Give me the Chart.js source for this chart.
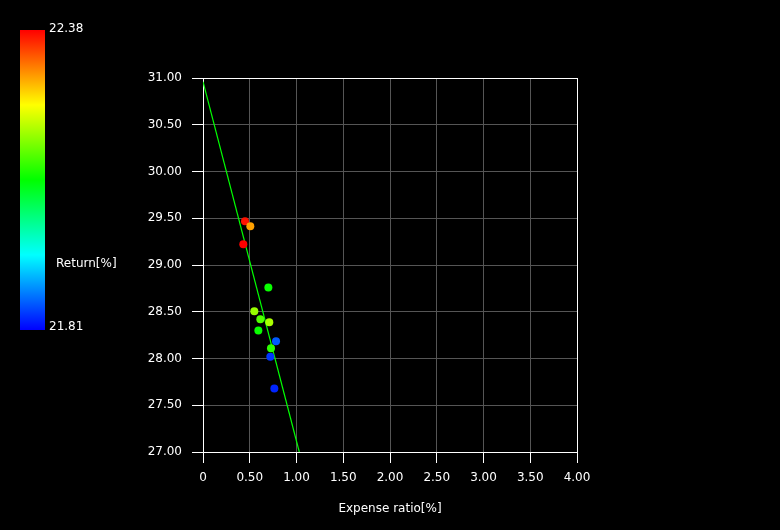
<!DOCTYPE html>
<html>
<head>
<meta charset="utf-8">
<script src="https://cdn.jsdelivr.net/npm/chart.js@4.4.0/dist/chart.umd.min.js"></script>
<style>
html,body{margin:0;padding:0;background:#000;}
#c{display:block;}
</style>
</head>
<body>
<canvas id="c" width="780" height="530"></canvas>
<script>
// Data
const expenseRatio = [0.449, 0.506, 0.431, 0.699, 0.549, 0.613, 0.709, 0.592, 0.781, 0.727, 0.720, 0.763];
const yValues      = [29.467, 29.414, 29.221, 28.76, 28.505, 28.42, 28.387, 28.30, 28.184, 28.11, 28.02, 27.68];
const returns      = [22.37, 22.29, 22.38, 22.10, 22.18, 22.14, 22.19, 22.10, 21.86, 22.12, 21.84, 21.83];
const fitLineX = [0, 1.03];
const fitLineY = [30.96, 27.0];
const returnMin = 21.81, returnMax = 22.38;
const colorbarLabels = ['22.38', '21.81'];
const colorbarTitle = 'Return[%]';
const xTitle = 'Expense ratio[%]';

function hueColor(v){
  let t = (v - returnMin) / (returnMax - returnMin);
  t = Math.max(0, Math.min(1, t));
  const h = 240 * (1 - t);
  return 'hsl(' + h + ',100%,50%)';
}

const points = expenseRatio.map((x, i) => ({x: x, y: yValues[i]}));
const pointColors = returns.map(hueColor);
const linePts = fitLineX.map((x, i) => ({x: x, y: fitLineY[i]}));

const FONT = {family: 'DejaVu Sans', size: 12};

const framePlugin = {
  id: 'frame',
  beforeDraw(chart){
    const ctx = chart.ctx;
    ctx.save();
    ctx.fillStyle = '#000';
    ctx.fillRect(0, 0, chart.width, chart.height);
    ctx.restore();
  },
  beforeDatasetsDraw(chart){
    const a = chart.chartArea, ctx = chart.ctx;
    ctx.save();
    ctx.strokeStyle = '#fff';
    ctx.lineWidth = 1;
    ctx.strokeRect(Math.round(a.left) + 0.5, Math.round(a.top) + 0.5, Math.round(a.right - a.left), Math.round(a.bottom - a.top));
    ctx.restore();
  },
  afterDraw(chart){
    const ctx = chart.ctx;
    ctx.save();
    const x0 = 20, y0 = 30, w = 25, h = 300;
    const g = ctx.createLinearGradient(0, y0, 0, y0 + h);
    g.addColorStop(0, '#ff0000');
    g.addColorStop(0.25, '#ffff00');
    g.addColorStop(0.5, '#00ff00');
    g.addColorStop(0.75, '#00ffff');
    g.addColorStop(1, '#0000ff');
    ctx.fillStyle = g;
    ctx.fillRect(x0, y0, w, h);
    ctx.fillStyle = '#fff';
    ctx.font = '12px "DejaVu Sans"';
    ctx.textBaseline = 'middle';
    ctx.textAlign = 'left';
    ctx.fillText(colorbarLabels[0], 49, 29);
    ctx.fillText(colorbarLabels[1], 49, 327);
    ctx.fillText(colorbarTitle, 56, 264);
    ctx.restore();
  }
};

new Chart(document.getElementById('c'), {
  type: 'scatter',
  data: {
    datasets: [
      {
        type: 'line',
        data: linePts,
        borderColor: '#00ff00',
        borderWidth: 1.2,
        pointRadius: 0,
        fill: false,
        order: 2
      },
      {
        data: points,
        backgroundColor: pointColors,
        borderWidth: 0,
        pointRadius: 4,
        pointHoverRadius: 4,
        order: 1
      }
    ]
  },
  options: {
    responsive: false,
    animation: false,
    devicePixelRatio: 1,
    layout: {padding: {left: 0, top: 78, right: 203, bottom: 0}},
    plugins: {legend: {display: false}, tooltip: {enabled: false}},
    scales: {
      x: {
        type: 'linear', min: 0, max: 4,
        afterFit(s){ s.height = 78; },
        ticks: {stepSize: 0.5, color: '#fff', font: FONT, padding: 8,
          callback: v => v === 0 ? '0' : v.toFixed(2)},
        grid: {color: '#555', tickColor: '#fff', tickLength: 11, lineWidth: 1},
        border: {color: '#fff'},
        title: {display: true, text: xTitle, color: '#fff', font: FONT, padding: {top: 0, bottom: 14}}
      },
      y: {
        type: 'linear', min: 27, max: 31,
        afterFit(s){ s.width = 203; },
        ticks: {stepSize: 0.5, color: '#fff', font: FONT, padding: 10,
          callback: v => v.toFixed(2)},
        grid: {color: '#555', tickColor: '#fff', tickLength: 11, lineWidth: 1},
        border: {color: '#fff'}
      }
    }
  },
  plugins: [framePlugin]
});
</script>
</body>
</html>
